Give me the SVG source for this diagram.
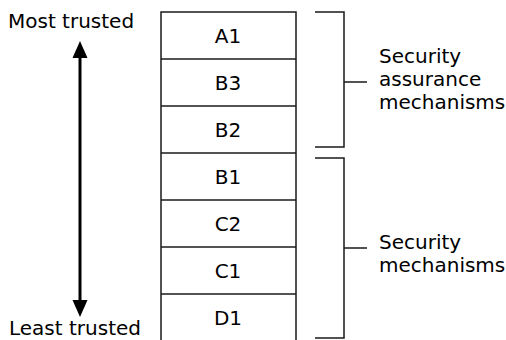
<svg xmlns="http://www.w3.org/2000/svg" width="506" height="340" viewBox="0 0 506 340">
<style>
text{font-family:"DejaVu Sans","Liberation Sans",sans-serif;font-size:20px;fill:#000}
.c{text-anchor:middle}
.ln{stroke:#1a1a1a;stroke-width:1.5;fill:none}
.ah{fill:#000}
</style>
<rect width="506" height="340" fill="#fff"/>
<g id="labels-left">
<text x="8" y="28">Most trusted</text>
<text x="9" y="335">Least trusted</text>
</g>
<g id="connectors">
<line x1="80" y1="55" x2="80" y2="304" stroke="#000" stroke-width="3"/>
<polygon class="ah" points="80,41 87.5,58 72.5,58"/>
<polygon class="ah" points="80,317 87.5,300 72.5,300"/>
</g>
<g id="stack">
<path class="ln" d="M161,340 V12 H296 V340"/>
<g id="A1"><line class="ln" x1="161" y1="59" x2="296" y2="59"/><text class="c" x="228" y="43">A1</text></g>
<g id="B3"><line class="ln" x1="161" y1="106" x2="296" y2="106"/><text class="c" x="228" y="90">B3</text></g>
<g id="B2"><line class="ln" x1="161" y1="153" x2="296" y2="153"/><text class="c" x="228" y="137">B2</text></g>
<g id="B1"><line class="ln" x1="161" y1="200" x2="296" y2="200"/><text class="c" x="228" y="184">B1</text></g>
<g id="C2"><line class="ln" x1="161" y1="247" x2="296" y2="247"/><text class="c" x="228" y="231">C2</text></g>
<g id="C1"><line class="ln" x1="161" y1="294" x2="296" y2="294"/><text class="c" x="228" y="278">C1</text></g>
<g id="D1"><text class="c" x="228" y="325">D1</text></g>
</g>
<g id="bracket-assurance">
<path class="ln" d="M315,12 H344 V147 H315 M344,82 H367"/>
<text x="379" y="63">Security</text>
<text x="379" y="86">assurance</text>
<text x="379" y="109">mechanisms</text>
</g>
<g id="bracket-security">
<path class="ln" d="M315,158 H344 V338 H315 M344,248 H367"/>
<text x="379" y="249">Security</text>
<text x="379" y="272">mechanisms</text>
</g>
</svg>
